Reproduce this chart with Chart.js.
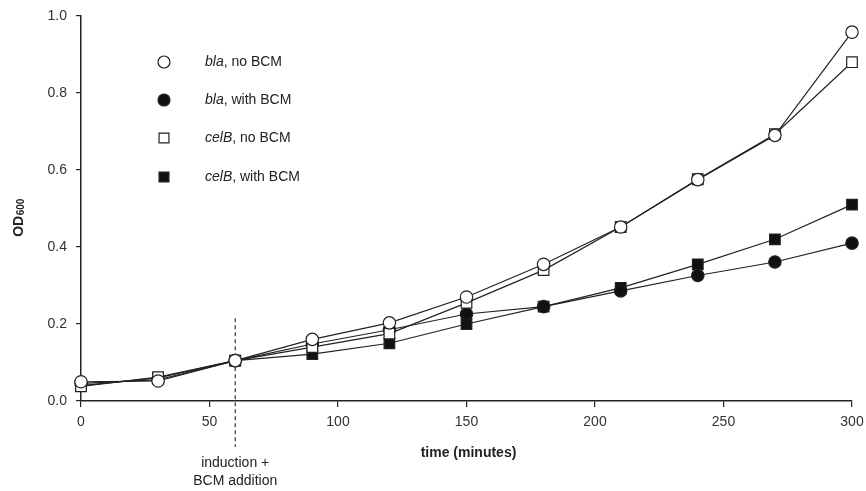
<!DOCTYPE html>
<html><head><meta charset="utf-8">
<script src="https://cdn.jsdelivr.net/npm/chart.js@4/dist/chart.umd.min.js"></script>
<style>html,body{margin:0;padding:0;background:#fff}#wrap{width:866px;height:491px}</style>
</head><body><div id="wrap"><canvas id="c"></canvas></div>
<script>
const times = [0, 30, 60, 90, 120, 150, 180, 210, 240, 270, 300];
const blaNoBCM   = [0.050, 0.052, 0.105, 0.160, 0.203, 0.270, 0.355, 0.452, 0.575, 0.690, 0.958];
const blaBCM     = [0.046, 0.055, 0.105, 0.148, 0.185, 0.226, 0.245, 0.286, 0.326, 0.361, 0.410];
const celBNoBCM  = [0.038, 0.062, 0.105, 0.140, 0.175, 0.255, 0.340, 0.452, 0.576, 0.693, 0.880];
const celBBCM    = [0.040, 0.060, 0.105, 0.122, 0.150, 0.200, 0.245, 0.294, 0.355, 0.420, 0.510];
const seriesNames = [["bla", ", no BCM"], ["bla", ", with BCM"], ["celB", ", no BCM"], ["celB", ", with BCM"]];
const xTicks = [0, 50, 100, 150, 200, 250, 300];
const yTicks = [0, 0.2, 0.4, 0.6, 0.8, 1.0];
const inductionTime = 60;
const xTitle = "time (minutes)";
const annotation = ["induction +", "BCM addition"];

const INK = '#222';
const FONT = '"Liberation Sans", Arial, sans-serif';

function ds(name, vals, style, filled, order) {
  return {
    label: name[0] + name[1],
    data: times.map((t, i) => ({x: t, y: vals[i]})),
    borderColor: INK, borderWidth: 1.2,
    pointStyle: style,
    pointRadius: style === 'rect' ? 7.5 : 6.2,
    pointBackgroundColor: filled ? '#111' : '#fff',
    pointBorderColor: INK, pointBorderWidth: 1.2,
    pointHoverRadius: style === 'rect' ? 7.5 : 6.2,
    fill: false, tension: 0, clip: false, order: order
  };
}

const decor = {
  id: 'decor',
  beforeDatasetsDraw(chart) {
    const ctx = chart.ctx, xs = chart.scales.x, ys = chart.scales.y;
    const x = xs.getPixelForValue(inductionTime);
    ctx.save();
    ctx.strokeStyle = INK; ctx.lineWidth = 1.1; ctx.setLineDash([4, 3]);
    ctx.beginPath(); ctx.moveTo(x, ys.getPixelForValue(0.215)); ctx.lineTo(x, ys.bottom + 46); ctx.stroke();
    ctx.restore();
  },
  afterDraw(chart) {
    const ctx = chart.ctx, xs = chart.scales.x;
    ctx.save();
    ctx.fillStyle = INK;
    ctx.font = '14px ' + FONT; ctx.textAlign = 'center'; ctx.textBaseline = 'middle';
    const ax = xs.getPixelForValue(inductionTime);
    ctx.fillText(annotation[0], ax, 463);
    ctx.fillText(annotation[1], ax, 481);
    ctx.font = 'bold 14px ' + FONT;
    ctx.fillText(xTitle, (xs.left + xs.right) / 2 + 2, 453);
    // y title OD600 rotated
    ctx.save();
    ctx.translate(19, 218); ctx.rotate(-Math.PI / 2);
    ctx.textAlign = 'left';
    ctx.font = 'bold 14px ' + FONT;
    const w1 = ctx.measureText('OD').width;
    ctx.font = 'bold 10px ' + FONT;
    const w2 = ctx.measureText('600').width;
    const start = -(w1 + w2) / 2;
    ctx.font = 'bold 14px ' + FONT;
    ctx.fillText('OD', start, 0);
    ctx.font = 'bold 10px ' + FONT;
    ctx.fillText('600', start + w1 + 0.5, 2);
    ctx.restore();
    // legend
    const rows = [62, 100, 138, 177];
    chart.data.datasets.forEach((d, i) => {
      const y = rows[i];
      ctx.fillStyle = d.pointBackgroundColor; ctx.strokeStyle = INK; ctx.lineWidth = 1.2;
      ctx.beginPath();
      if (d.pointStyle === 'rect') { const s = 7 * Math.SQRT1_2; ctx.rect(164 - s, y - s, 2 * s, 2 * s); }
      else ctx.arc(164, y, 6, 0, Math.PI * 2);
      ctx.fill(); ctx.stroke();
      ctx.fillStyle = INK; ctx.textAlign = 'left'; ctx.textBaseline = 'middle';
      ctx.font = 'italic 14px ' + FONT;
      ctx.fillText(seriesNames[i][0], 205, y);
      const w = ctx.measureText(seriesNames[i][0]).width;
      ctx.font = '14px ' + FONT;
      ctx.fillText(seriesNames[i][1], 205 + w, y);
    });
    ctx.restore();
  }
};

new Chart(document.getElementById('c'), {
  type: 'line',
  data: { datasets: [
    ds(seriesNames[0], blaNoBCM, 'circle', false, 1),
    ds(seriesNames[1], blaBCM, 'circle', true, 3),
    ds(seriesNames[2], celBNoBCM, 'rect', false, 2),
    ds(seriesNames[3], celBBCM, 'rect', true, 4)
  ] },
  options: {
    responsive: true, maintainAspectRatio: false, animation: false,
    layout: { autoPadding: false, padding: { top: 16, right: 14, left: 0, bottom: 0 } },
    plugins: { legend: { display: false }, tooltip: { enabled: false } },
    scales: {
      x: {
        type: 'linear', min: 0, max: 300,
        afterBuildTicks: s => { s.ticks = xTicks.map(v => ({value: v})); },
        afterFit: s => { s.height = 90; s.paddingLeft = 0; s.paddingRight = 0; },
        grid: { display: true, drawOnChartArea: false, drawTicks: true, tickLength: 6, color: INK, lineWidth: 1.2 },
        border: { display: true, color: INK, width: 1.5 },
        ticks: { color: '#333', font: { family: FONT, size: 14 }, padding: 7, maxRotation: 0 }
      },
      y: {
        min: 0, max: 1,
        afterBuildTicks: s => { s.ticks = yTicks.map(v => ({value: v})); },
        afterFit: s => { s.width = 81; s.paddingTop = 0; s.paddingBottom = 0; },
        grid: { display: true, drawOnChartArea: false, drawTicks: true, tickLength: 5, color: INK, lineWidth: 1.2 },
        border: { display: true, color: INK, width: 1.5 },
        ticks: { color: '#333', font: { family: FONT, size: 14 }, padding: 9, callback: v => Number(v).toFixed(1) }
      }
    }
  },
  plugins: [decor]
});
</script></body></html>
